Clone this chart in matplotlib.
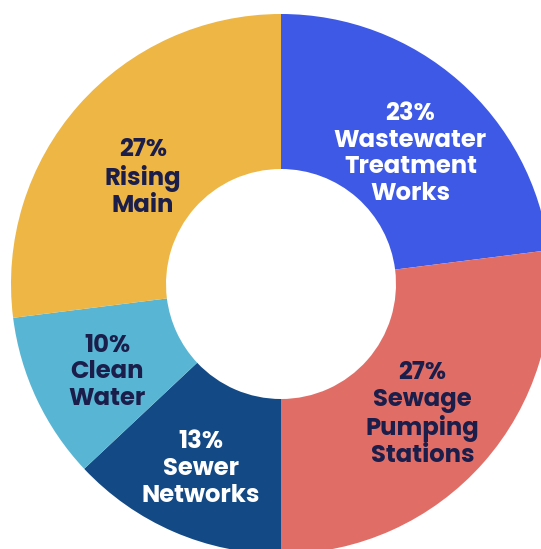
import matplotlib.pyplot as plt
import numpy as np

# data
categories = ['Wastewater\nTreatment\nWorks', 'Sewage\nPumping\nStations',
              'Sewer\nNetworks', 'Clean\nWater', 'Rising\nMain']
shares = [23, 27, 13, 10, 27]
colors = ['#3D59E6', '#E06E67', '#134A86', '#58B6D4', '#EDB645']
text_colors = ['#FFFFFF', '#1B1E4A', '#FFFFFF', '#1B1E4A', '#1B1E4A']
# label placement: distance from centre (px) and angle nudge (deg)
label_dist = [183, 193, 202, 195, 174]
label_nudge = [-3.6, -1.4, 0.0, 1.9, 4.0]

plt.rcParams['font.family'] = ['Poppins', 'Inter', 'DejaVu Sans']

fig = plt.figure(figsize=(5.41, 5.49), dpi=100)
ax = fig.add_axes([0, 0, 1, 1])

cx, cy, R = 281, 265, 270
wedges, _ = ax.pie(shares, colors=colors, startangle=90, counterclock=False,
                   radius=R, center=(cx, cy), frame=True,
                   wedgeprops=dict(width=R - 115, linewidth=0))
ax.set_xlim(0, 541)
ax.set_ylim(0, 549)
ax.set_aspect('equal')
ax.axis('off')

for w, name, pct, tc, d, nd in zip(wedges, categories, shares, text_colors,
                                   label_dist, label_nudge):
    mid = np.deg2rad((w.theta1 + w.theta2) / 2 + nd)
    x = cx + d * np.cos(mid)
    y = cy + d * np.sin(mid)
    ax.text(x, y, f'{pct}%\n{name}', ha='center', va='center', color=tc,
            fontsize=17.5, fontweight='bold', linespacing=1.1)

fig.savefig('out.png', dpi=100)
